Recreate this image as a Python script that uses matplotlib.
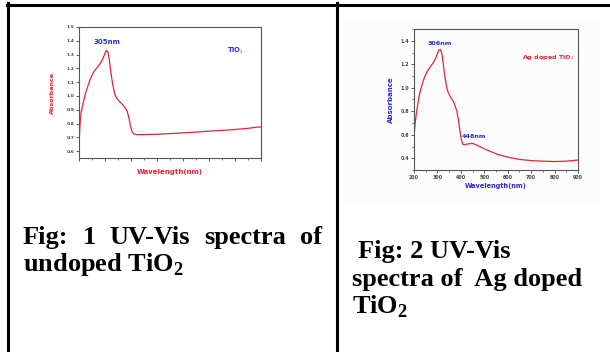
import matplotlib
matplotlib.use("Agg")
import matplotlib.pyplot as plt
from matplotlib.lines import Line2D
from matplotlib.patches import Rectangle
from matplotlib.ticker import MultipleLocator

# ---- data ----
wl_undoped = [200, 204, 208, 215, 225, 241, 255, 267, 280, 292, 300, 306, 311, 316,
              322, 330, 338, 346, 356, 366, 375, 385, 392, 398, 404, 410, 420, 450,
              500, 550, 600, 650, 700, 750, 800, 850, 880, 900]
abs_undoped = [0.64, 0.80, 0.88, 0.94, 1.02, 1.11, 1.17, 1.20, 1.23, 1.27, 1.31, 1.33, 1.32, 1.27,
               1.18, 1.08, 1.01, 0.98, 0.96, 0.94, 0.92, 0.89, 0.84, 0.78, 0.74, 0.725, 0.72, 0.72,
               0.722, 0.727, 0.732, 0.738, 0.745, 0.75, 0.757, 0.765, 0.773, 0.775]

wl_ag = [200, 205, 210, 217, 224, 235, 245, 260, 274, 288, 298, 306, 312, 318, 324,
         330, 338, 346, 356, 366, 375, 383, 390, 396, 402, 408, 415, 425, 440, 452,
         465, 480, 500, 530, 560, 600, 650, 700, 750, 800, 850, 900]
abs_ag = [0.59, 0.70, 0.78, 0.87, 0.95, 1.03, 1.09, 1.15, 1.19, 1.23, 1.28, 1.32, 1.325, 1.30, 1.22,
          1.12, 1.02, 0.96, 0.92, 0.89, 0.85, 0.80, 0.72, 0.63, 0.56, 0.52, 0.515, 0.52, 0.525, 0.525,
          0.515, 0.50, 0.48, 0.455, 0.43, 0.41, 0.39, 0.38, 0.375, 0.372, 0.375, 0.385]

peak_undoped = (306, 1.33)
peak_ag = (306, 1.325)
shoulder_ag = (448, 0.525)

RED = '#e32636'
BLUE = '#2b2bd9'
SERIF = 'Liberation Serif'
W, H = 610, 352

plt.rcParams['mathtext.fontset'] = 'custom'
plt.rcParams['mathtext.rm'] = SERIF
plt.rcParams['mathtext.bf'] = SERIF + ':bold'


def fx(px):
    return px / W


def fy(py):
    return 1 - py / H


fig = plt.figure(figsize=(6.1, 3.52), dpi=100)
fig.patch.set_facecolor('white')

# faint background of the second pasted image
fig.add_artist(Rectangle((fx(345), fy(202)), fx(600) - fx(345), fy(20) - fy(202),
                         transform=fig.transFigure, fc='#fcfcfc', ec='none', zorder=-5))

# table borders
for xs, ys in [([7, 610], [4.5, 4.5]), ([7.5, 7.5], [3, 352]), ([337, 337], [3, 352])]:
    fig.add_artist(Line2D([fx(v) for v in xs], [fy(v) for v in ys],
                          color='black', lw=2.2, transform=fig.transFigure))


def style_axes(ax, tick_fs):
    ax.patch.set_alpha(0)
    for s in ax.spines.values():
        s.set_color('#555555')
        s.set_linewidth(0.8)
    ax.tick_params(which='major', direction='out', length=2, width=0.6,
                   labelsize=tick_fs, colors='#444444', pad=1.5)
    ax.tick_params(which='minor', direction='out', length=1.2, width=0.5, colors='#444444')
    for lab in ax.get_xticklabels() + ax.get_yticklabels():
        lab.set_fontweight('bold')


# ---- Fig 1: undoped TiO2 ----
ax1 = fig.add_axes([fx(79), fy(158), fx(261) - fx(79), fy(27) - fy(158)])
ax1.plot(wl_undoped, abs_undoped, color=RED, lw=0.9)
ax1.set_xlim(200, 900)
ax1.set_ylim(0.55, 1.5)
ax1.xaxis.set_major_locator(MultipleLocator(100))
ax1.xaxis.set_minor_locator(MultipleLocator(50))
ax1.yaxis.set_major_locator(MultipleLocator(0.1))
ax1.set_xticklabels([])
style_axes(ax1, 3.2)
ax1.set_xlabel('Wavelength(nm)', color=RED, fontsize=5, fontweight='bold', labelpad=3)
ax1.set_ylabel('Absorbance', color=RED, fontsize=4.6, fontweight='bold', labelpad=8)
ax1.text(peak_undoped[0], peak_undoped[1] + 0.04, '305nm', color=BLUE, fontsize=5,
         fontweight='bold', ha='center', va='bottom')
ax1.text(0.86, 0.82, 'TiO$_2$', transform=ax1.transAxes, color=BLUE, fontsize=4.8,
         fontweight='bold', ha='center', va='center', family='DejaVu Sans')

# ---- Fig 2: Ag doped TiO2 ----
ax2 = fig.add_axes([fx(414), fy(170), fx(578) - fx(414), fy(29) - fy(170)])
ax2.plot(wl_ag, abs_ag, color=RED, lw=0.9)
ax2.set_xlim(200, 900)
ax2.set_ylim(0.3, 1.5)
ax2.xaxis.set_major_locator(MultipleLocator(100))
ax2.xaxis.set_minor_locator(MultipleLocator(50))
ax2.yaxis.set_major_locator(MultipleLocator(0.2))
ax2.yaxis.set_minor_locator(MultipleLocator(0.1))
style_axes(ax2, 3.4)
ax2.set_xlabel('Wavelength(nm)', color=BLUE, fontsize=4.8, fontweight='bold', labelpad=2)
ax2.set_ylabel('Absorbance', color=BLUE, fontsize=5, fontweight='bold', labelpad=5)
ax2.text(peak_ag[0] + 4, peak_ag[1] + 0.03, '306nm', color=BLUE, fontsize=4.6,
         fontweight='bold', ha='center', va='bottom')
ax2.text(shoulder_ag[0] + 6, shoulder_ag[1] + 0.04, '448nm', color=BLUE, fontsize=4.6,
         fontweight='bold', ha='center', va='bottom')
ax2.text(0.82, 0.80, 'Ag doped TiO$_2$', transform=ax2.transAxes, color=RED, fontsize=4.6,
         fontweight='bold', ha='center', va='center')

# ---- captions ----
CAP_FS = 19
cap_kw = dict(family=SERIF, fontweight='bold', fontsize=CAP_FS, color='black',
              va='baseline', ha='left')
SUB2 = '$_\\mathbf{2}$'

# first line of caption 1 is justified between x=23 and x=322
words = ['Fig:', '1', 'UV-Vis', 'spectra', 'of']
texts = [fig.text(0, fy(244), w, **cap_kw) for w in words]
fig.canvas.draw()
r = fig.canvas.get_renderer()
widths = [t.get_window_extent(r).width for t in texts]
gap = ((322 - 23) - sum(widths)) / (len(words) - 1)
x = 23
for t, w in zip(texts, widths):
    t.set_x(fx(x))
    x += w + gap

fig.text(fx(23), fy(271), 'undoped TiO' + SUB2, **cap_kw)

fig.text(fx(358), fy(258), 'Fig: 2 UV-Vis', **cap_kw)
fig.text(fx(352), fy(286), 'spectra of  Ag doped', **cap_kw)
fig.text(fx(352), fy(314), 'TiO' + SUB2, **cap_kw)

fig.savefig('out.png', dpi=100)
